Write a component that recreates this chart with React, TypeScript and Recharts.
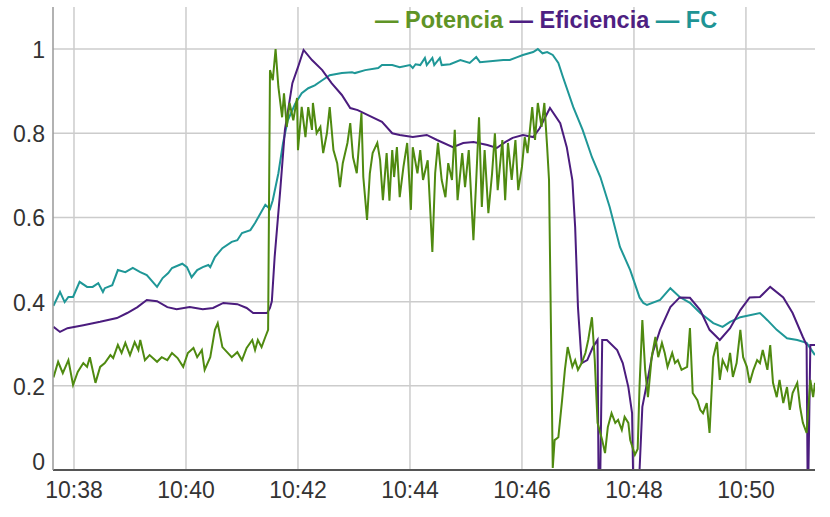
import { LineChart, Line, XAxis, YAxis, CartesianGrid } from "recharts";

// time = seconds after 10:37:00, value = normalised 0..1
const potencia: [number, number][] = [
  [38, 0.22], [43, 0.257], [48, 0.23], [54, 0.261], [59, 0.202], [64, 0.233], [70, 0.254],
  [74, 0.245], [77, 0.268], [83, 0.207], [88, 0.245], [93, 0.254], [99, 0.273], [102, 0.266],
  [107, 0.297], [111, 0.278], [115, 0.302], [120, 0.273], [125, 0.304], [129, 0.285], [131, 0.309],
  [136, 0.261], [141, 0.273], [149, 0.257], [154, 0.268], [160, 0.261], [165, 0.278], [171, 0.266],
  [177, 0.245], [182, 0.278], [188, 0.29], [192, 0.268], [197, 0.285], [200, 0.238], [206, 0.268],
  [211, 0.333], [214, 0.349], [219, 0.292], [224, 0.28], [229, 0.268], [235, 0.28], [240, 0.261],
  [245, 0.29], [251, 0.309], [254, 0.285], [257, 0.309], [261, 0.292], [265, 0.316], [268, 0.333],
  [270, 0.95], [273, 0.926], [276, 1.0], [279, 0.91], [283, 0.838], [285, 0.895], [288, 0.815],
  [291, 0.872], [295, 0.831], [299, 0.884], [300, 0.76], [304, 0.863], [308, 0.791], [311, 0.862],
  [315, 0.808], [316, 0.872], [320, 0.8], [324, 0.815], [327, 0.753], [331, 0.8], [334, 0.862],
  [338, 0.76], [342, 0.729], [345, 0.672], [348, 0.729], [353, 0.777], [356, 0.824], [359, 0.743],
  [363, 0.705], [368, 0.848], [370, 0.696], [374, 0.594], [377, 0.705], [380, 0.753], [385, 0.777],
  [388, 0.736], [391, 0.641], [395, 0.753], [398, 0.64], [401, 0.76], [403, 0.696], [406, 0.767],
  [409, 0.648], [413, 0.72], [417, 0.777], [421, 0.618], [423, 0.767], [428, 0.705], [431, 0.76],
  [434, 0.689], [439, 0.736], [444, 0.518], [447, 0.705], [450, 0.777], [454, 0.689], [458, 0.648],
  [461, 0.729], [465, 0.689], [468, 0.808], [471, 0.641], [476, 0.753], [479, 0.672], [483, 0.76],
  [488, 0.546], [491, 0.689], [494, 0.838], [497, 0.625], [500, 0.76], [504, 0.61], [508, 0.705],
  [511, 0.8], [514, 0.665], [519, 0.784], [522, 0.641], [525, 0.777], [529, 0.689], [533, 0.784],
  [536, 0.665], [540, 0.72], [543, 0.791], [546, 0.753], [551, 0.862], [554, 0.784], [557, 0.872],
  [561, 0.815], [564, 0.872], [567, 0.767], [569, 0.689], [571, 0.35], [573, 0.005], [575, 0.071],
  [579, 0.078], [583, 0.166], [586, 0.238], [589, 0.292], [594, 0.245], [597, 0.261], [600, 0.238],
  [604, 0.254], [608, 0.278], [611, 0.309], [615, 0.363], [618, 0.261], [621, 0.112], [626, 0.071],
  [629, 0.04], [632, 0.102], [636, 0.135], [640, 0.112], [643, 0.119], [647, 0.095], [650, 0.126],
  [654, 0.112], [656, 0.071], [661, 0.036], [664, 0.05], [666, 0.2], [669, 0.356], [672, 0.238],
  [675, 0.173], [679, 0.268], [683, 0.316], [686, 0.268], [690, 0.302], [693, 0.278], [696, 0.245],
  [701, 0.278], [704, 0.254], [707, 0.261], [711, 0.238], [717, 0.245], [720, 0.337], [723, 0.183],
  [728, 0.166], [731, 0.143], [734, 0.135], [738, 0.159], [741, 0.088], [745, 0.268], [749, 0.304],
  [752, 0.214], [755, 0.261], [760, 0.238], [763, 0.278], [766, 0.221], [770, 0.254], [774, 0.333],
  [777, 0.268], [781, 0.245], [784, 0.207], [788, 0.238], [792, 0.261], [795, 0.254], [798, 0.285],
  [803, 0.238], [806, 0.297], [809, 0.207], [813, 0.173], [816, 0.214], [820, 0.159], [824, 0.197],
  [827, 0.143], [830, 0.183], [835, 0.207], [838, 0.15], [841, 0.112], [845, 0.088], [849, 0.214],
  [852, 0.173], [854, 0.207],
];

const eficiencia: [number, number][] = [
  [38, 0.34], [45, 0.328], [53, 0.337], [70, 0.344], [88, 0.352], [106, 0.361], [117, 0.373],
  [128, 0.387], [138, 0.404], [149, 0.401], [160, 0.387], [170, 0.382], [184, 0.387], [198, 0.382],
  [209, 0.385], [220, 0.397], [235, 0.394], [245, 0.385], [252, 0.373], [267, 0.373], [270, 0.385],
  [272, 0.401], [275, 0.506], [281, 0.665], [286, 0.808], [294, 0.919], [300, 0.957], [306, 0.998],
  [315, 0.974], [326, 0.95], [336, 0.919], [347, 0.891], [356, 0.86], [364, 0.855], [375, 0.843],
  [390, 0.827], [401, 0.8], [409, 0.796], [423, 0.791], [438, 0.796], [449, 0.784], [466, 0.767],
  [477, 0.777], [488, 0.779], [503, 0.772], [513, 0.765], [522, 0.779], [530, 0.789], [541, 0.796],
  [552, 0.791], [559, 0.812], [570, 0.86], [581, 0.824], [588, 0.767], [594, 0.689], [597, 0.577],
  [600, 0.387], [604, 0.254], [610, 0.261], [616, 0.292], [621, 0.309], [622, 0], [624, 0],
  [626, 0.309], [631, 0.309], [642, 0.285], [648, 0.254], [654, 0.197], [658, 0.135], [659, 0],
  [666, 0], [669, 0.15], [674, 0.207], [680, 0.278], [688, 0.333], [699, 0.387], [709, 0.41],
  [720, 0.409], [731, 0.38], [741, 0.333], [752, 0.309], [763, 0.337], [774, 0.38], [784, 0.41],
  [795, 0.411], [806, 0.435], [820, 0.41], [830, 0.373], [841, 0.316], [845, 0.297], [846, 0],
  [847, 0], [849, 0.297], [854, 0.297],
];

const fc: [number, number][] = [
  [38, 0.39], [45, 0.423], [50, 0.399], [54, 0.411], [59, 0.411], [66, 0.447], [74, 0.435],
  [80, 0.435], [86, 0.444], [91, 0.423], [93, 0.432], [101, 0.439], [107, 0.475], [115, 0.47],
  [123, 0.48], [131, 0.47], [138, 0.463], [149, 0.435], [155, 0.456], [161, 0.468], [165, 0.48],
  [176, 0.49], [181, 0.482], [186, 0.458], [192, 0.475], [198, 0.482], [204, 0.487], [206, 0.482],
  [211, 0.506], [219, 0.527], [229, 0.542], [235, 0.546], [240, 0.563], [249, 0.57], [254, 0.587],
  [265, 0.63], [270, 0.62], [273, 0.641], [279, 0.705], [284, 0.777], [289, 0.83], [297, 0.87],
  [304, 0.895], [311, 0.907], [318, 0.914], [326, 0.926], [334, 0.938], [347, 0.943], [358, 0.945],
  [361, 0.943], [372, 0.95], [386, 0.955], [390, 0.962], [401, 0.962], [409, 0.957], [420, 0.962],
  [423, 0.955], [426, 0.964], [431, 0.962], [436, 0.979], [438, 0.962], [444, 0.979], [446, 0.962],
  [452, 0.979], [454, 0.962], [463, 0.964], [474, 0.974], [484, 0.967], [491, 0.981], [495, 0.969],
  [520, 0.974], [527, 0.974], [535, 0.981], [541, 0.986], [552, 0.993], [557, 1.0], [562, 0.99],
  [567, 0.993], [573, 0.986], [579, 0.967], [584, 0.933], [595, 0.862], [605, 0.808], [615, 0.743],
  [624, 0.696], [634, 0.625], [645, 0.53], [656, 0.475], [666, 0.41], [670, 0.397], [674, 0.392],
  [688, 0.404], [699, 0.432], [709, 0.411], [720, 0.397], [731, 0.373], [745, 0.349], [755, 0.34],
  [763, 0.352], [774, 0.363], [795, 0.373], [803, 0.356], [813, 0.333], [824, 0.313], [835, 0.309],
  [845, 0.302], [854, 0.273],
];

const timeTicks = [60, 180, 300, 420, 540, 660, 780];
const valueTicks = [0, 0.2, 0.4, 0.6, 0.8, 1];

const toRows = (pts: [number, number][]) => pts.map(([t, v]) => ({ t, v }));

const FONT = '"Liberation Sans", Arial, sans-serif';

const formatTime = (s: number) => `10:${37 + Math.round(s / 60)}`;

function YTick({ x, y, payload }: any) {
  const isZero = payload.value === 0;
  return (
    <text
      x={x}
      y={isZero ? y : y + 9}
      textAnchor="end"
      fontSize={23}
      fontFamily={FONT}
      fill="#333"
    >
      {payload.value}
    </text>
  );
}

function XTick({ x, y, payload }: any) {
  return (
    <text
      x={x}
      y={y + 20}
      textAnchor="middle"
      fontSize={23}
      fontFamily={FONT}
      fill="#333"
    >
      {formatTime(payload.value)}
    </text>
  );
}

const legendItems = [
  { name: "Potencia", color: "#5f9426" },
  { name: "Eficiencia", color: "#4e1f82" },
  { name: "FC", color: "#1e9494" },
];

export default function App() {
  return (
    <div style={{ position: "absolute", left: 0, top: 0, width: 830, height: 517, background: "#fff" }}>
      <LineChart
        width={830}
        height={517}
        margin={{ top: 7, right: 15, bottom: 0, left: 0 }}
      >
        <CartesianGrid stroke="#cccccc" strokeWidth={1.5} horizontalValues={valueTicks} verticalValues={timeTicks} />
        <XAxis
          type="number"
          dataKey="t"
          domain={[37.5, 854]}
          ticks={timeTicks}
          allowDataOverflow
          height={47}
          tick={<XTick />}
          tickLine={false}
          axisLine={{ stroke: "#555", strokeWidth: 2 }}
        />
        <YAxis
          type="number"
          domain={[0, 1.1]}
          ticks={valueTicks}
          allowDataOverflow
          width={53}
          tick={<YTick />}
          tickLine={false}
          axisLine={{ stroke: "#999", strokeWidth: 1.5 }}
        />
        <Line
          data={toRows(fc)}
          dataKey="v"
          type="linear"
          stroke="#1f9797"
          strokeWidth={2}
          dot={false}
          isAnimationActive={false}
        />
        <Line
          data={toRows(eficiencia)}
          dataKey="v"
          type="linear"
          stroke="#4b1c7e"
          strokeWidth={2}
          dot={false}
          isAnimationActive={false}
        />
        <Line
          data={toRows(potencia)}
          dataKey="v"
          type="linear"
          stroke="#4f8a10"
          strokeWidth={2}
          dot={false}
          isAnimationActive={false}
        />
      </LineChart>
      <div
        style={{
          position: "absolute",
          left: 375,
          top: 9,
          fontFamily: FONT,
          fontWeight: "bold",
          fontSize: 23.5,
          lineHeight: 1,
          whiteSpace: "pre",
          display: "flex",
        }}
      >
        {legendItems.map((item, i) => (
          <span key={item.name} style={{ color: item.color }}>
            {(i > 0 ? " " : "") + "\u2014 " + item.name}
          </span>
        ))}
      </div>
    </div>
  );
}
